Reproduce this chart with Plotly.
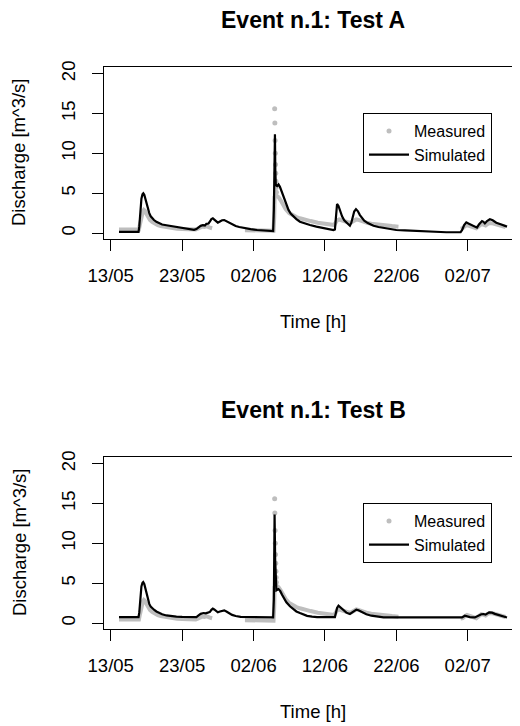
import pandas as pd
import plotly.graph_objects as go

# ---------------- data (days after 13/05) ----------------
BASE = pd.Timestamp("2013-05-13")

tick_days = [0, 10, 20, 30, 40, 50]
y_ticks = [0, 5, 10, 15, 20]

# Measured discharge (grey band), three recorded stretches
meas_day_1 = [1.16, 3.95, 4.05, 4.2, 4.35, 4.5, 4.65, 4.8, 5.0, 5.25, 5.5, 5.8, 6.2, 6.6, 7.0, 7.8,
              8.5, 9.3, 10.0, 10.8, 11.6, 11.9, 12.2, 12.5, 12.8, 13.1, 13.4, 13.8, 14.2]
meas_val_1 = [0.45, 0.45, 0.9, 1.6, 2.3, 2.7, 2.9, 2.8, 2.4, 1.95, 1.65, 1.4, 1.15, 1.0, 0.88, 0.72,
              0.62, 0.55, 0.5, 0.45, 0.4, 0.45, 0.55, 0.7, 0.8, 0.75, 0.85, 0.7, 0.6]
meas_day_2 = [18.8, 20.0, 21.5, 22.8, 22.9, 22.95, 23.2, 23.5, 23.8, 24.1, 24.5, 25.0, 25.5, 26.0,
              26.5, 27.2, 28.0, 29.0, 30.0, 30.7, 31.3, 31.5, 31.7, 32.0, 32.3, 32.6, 33.0, 33.4,
              33.7, 34.0, 34.4, 34.7, 35.1, 35.5, 36.0, 36.5, 37.0, 37.8, 38.5, 39.4, 40.3]
meas_val_2 = [0.35, 0.32, 0.3, 0.3, 2.0, 4.5, 4.7, 4.5, 4.1, 3.6, 3.0, 2.5, 2.2, 2.0,
              1.85, 1.65, 1.5, 1.3, 1.15, 1.07, 1.0, 1.3, 1.6, 1.7, 1.6, 1.5, 1.4, 1.3,
              1.35, 1.5, 1.7, 1.65, 1.5, 1.38, 1.25, 1.17, 1.1, 1.02, 0.95, 0.87, 0.8]
meas_day_3 = [49.0, 49.3, 49.6, 49.9, 50.4, 50.8, 51.2, 51.6, 51.9, 52.2, 52.5, 52.8, 53.1, 53.6,
              54.0, 54.5, 55.0, 55.3]
meas_val_3 = [0.55, 0.6, 0.85, 1.0, 0.85, 0.7, 0.6, 0.9, 1.1, 1.05, 0.95, 1.15, 1.25, 1.2,
              1.1, 1.0, 0.85, 0.75]
# Measured peak readings (isolated dots on the flood spike)
peak_day = [22.96, 22.99, 23.02, 23.05, 23.08, 23.11, 23.14, 23.17, 23.2]
peak_val = [15.6, 13.8, 11.6, 10.0, 8.6, 7.5, 6.5, 5.7, 5.1]

# Simulated discharge, Test A
sim_a_day = [1.16, 3.9, 4.0, 4.1, 4.2, 4.3, 4.45, 4.57, 4.7, 4.85, 5.0, 5.2, 5.4, 5.6, 5.8, 6.06,
             6.4, 6.8, 7.2, 7.8, 8.4, 9.2, 10.0, 10.8, 11.67, 12.0, 12.3, 12.6, 12.9, 13.2, 13.4,
             13.7, 13.9, 14.1, 14.3, 14.5, 14.8, 15.0, 15.3, 15.6, 15.9, 16.2, 16.6, 17.0, 17.5,
             18.0, 18.8, 19.6, 20.5, 21.5, 22.75, 22.85, 22.95, 23.0, 23.05, 23.12, 23.3, 23.5,
             23.7, 23.95, 24.2, 24.5, 24.9, 25.2, 25.6, 26.0, 26.5, 27.2, 27.9, 28.8, 29.8, 30.5,
             31.2, 31.4, 31.55, 31.7, 31.9, 32.1, 32.4, 32.7, 33.0, 33.3, 33.5, 33.7, 33.9, 34.1,
             34.35, 34.6, 34.9, 35.2, 35.5, 36.0, 36.8, 37.5, 38.2, 39.0, 40.0, 41.2, 42.4, 43.5,
             45.0, 47.0, 49.0, 49.2, 49.5, 49.8, 50.1, 50.5, 50.9, 51.3, 51.6, 52.0, 52.2, 52.4,
             52.7, 53.1, 53.5, 54.0, 54.6, 55.0, 55.5]
sim_a_val = [0.15, 0.15, 0.8, 2.2, 3.4, 4.3, 4.85, 4.98, 4.8, 4.3, 3.7, 3.0, 2.5, 2.1, 1.85, 1.63,
             1.4, 1.2, 1.07, 0.97, 0.88, 0.76, 0.63, 0.52, 0.4, 0.5, 0.75, 0.9, 1.0, 0.95, 1.15,
             1.2, 1.45, 1.75, 1.84, 1.7, 1.4, 1.3, 1.45, 1.6, 1.63, 1.5, 1.25, 1.05, 0.88,
             0.75, 0.6, 0.48, 0.38, 0.3, 0.25, 3.0, 10.5, 12.4, 8.0, 6.0, 5.9, 6.1,
             5.8, 5.2, 4.56, 3.7, 2.9, 2.45, 2.05, 1.75, 1.42, 1.2, 1.0, 0.8, 0.6, 0.48,
             0.38, 0.45, 2.5, 3.64, 3.4, 2.8, 2.1, 1.6, 1.3, 1.05, 0.92, 1.3, 2.0, 2.7,
             3.0, 2.75, 2.25, 1.85, 1.55, 1.25, 0.92, 0.75, 0.63, 0.5, 0.38, 0.32, 0.27, 0.2,
             0.13, 0.1, 0.1, 0.35, 1.0, 1.34, 1.2, 1.0, 0.8, 0.67, 1.1, 1.5, 1.4, 1.2,
             1.5, 1.72, 1.6, 1.3, 1.1, 0.95, 0.8]

# Simulated discharge, Test B
sim_b_day = [1.16, 3.9, 4.0, 4.1, 4.2, 4.3, 4.45, 4.55, 4.7, 4.85, 5.0, 5.2, 5.4, 5.6, 5.8, 6.06,
             6.4, 6.8, 7.2, 7.8, 8.4, 9.2, 10.0, 12.0, 12.3, 12.6, 13.0, 13.3, 13.6, 13.9, 14.1,
             14.3, 14.5, 14.8, 15.0, 15.3, 15.6, 15.9, 16.2, 16.6, 17.0, 17.5, 18.2, 20.0, 22.75,
             22.85, 22.95, 23.03, 23.1, 23.2, 23.5, 23.75, 24.0, 24.2, 24.6, 25.1, 25.6, 26.0,
             26.5, 27.0, 27.5, 28.2, 28.9, 31.4, 31.55, 31.7, 31.9, 32.1, 32.5, 33.0, 33.5, 33.8,
             34.1, 34.4, 34.7, 35.2, 35.8, 36.5, 37.3, 38.2, 45.0, 49.2, 49.6, 49.9, 50.3, 51.0,
             51.5, 51.9, 52.2, 52.5, 53.0, 53.4, 53.8, 54.5, 55.0, 55.5]
sim_b_val = [0.75, 0.75, 1.3, 2.6, 3.8, 4.6, 5.05, 5.14, 4.9, 4.3, 3.6, 2.9, 2.4, 2.05, 1.85, 1.67,
             1.45, 1.25, 1.1, 0.95, 0.85, 0.8, 0.77, 0.75, 0.95, 1.15, 1.25, 1.22, 1.3, 1.4, 1.65,
             1.8, 1.7, 1.45, 1.34, 1.45, 1.57, 1.59, 1.45, 1.22, 1.02, 0.88, 0.78, 0.74, 0.72,
             3.0, 13.6, 8.0, 5.0, 4.1, 4.26, 4.0, 3.55, 3.2, 2.6, 2.1, 1.7, 1.45,
             1.25, 1.05, 0.9, 0.8, 0.75, 0.75, 1.4, 1.9, 2.17, 2.0, 1.6, 1.3, 1.13, 1.3,
             1.55, 1.67, 1.6, 1.35, 1.1, 0.92, 0.8, 0.72, 0.7, 0.7, 0.92, 0.85, 0.75, 0.7,
             0.95, 1.1, 1.13, 1.05, 1.34, 1.3, 1.15, 0.95, 0.82, 0.7]

titles = ["Event n.1: Test A", "Event n.1: Test B"]
x_title = "Time [h]"
y_title = "Discharge [m^3/s]"
legend_names = ["Measured", "Simulated"]

# ---------------- helpers ----------------
def to_dt(days):
    return [None if d is None else BASE + pd.Timedelta(days=d) for d in days]

meas_days = meas_day_1 + [None] + meas_day_2 + [None] + meas_day_3
meas_vals = meas_val_1 + [None] + meas_val_2 + [None] + meas_val_3

FONT = "Liberation Sans, Arial, Helvetica, sans-serif"
GREY = "#BEBEBE"
OFF = 8                      # the page body has an 8 px margin around the figure
W, H = 520 - OFF, 726 - OFF  # figure size so that it ends exactly at the window edge

def px_x(px):  # page pixel (from left) -> paper fraction
    return (px - OFF) / W

def px_y(px):  # page pixel (from top) -> paper fraction
    return (H - (px - OFF)) / H

panels = [
    dict(sim_d=sim_a_day, sim_v=sim_a_val, top=67, bottom=239, title_y=20, xt_y=321, leg_top=113),
    dict(sim_d=sim_b_day, sim_v=sim_b_val, top=457, bottom=629, title_y=410, xt_y=711, leg_top=503),
]

fig = go.Figure()
annotations = []
layout = {}
for i, p in enumerate(panels):
    sfx = "" if i == 0 else str(i + 1)
    xa, ya, lg = "x" + sfx, "y" + sfx, "legend" + sfx
    fig.add_trace(go.Scatter(x=to_dt(meas_days), y=meas_vals, mode="lines",
                             line=dict(color=GREY, width=4), connectgaps=False,
                             showlegend=False, xaxis=xa, yaxis=ya, hoverinfo="skip"))
    fig.add_trace(go.Scatter(x=to_dt(peak_day), y=peak_val, mode="markers", name=legend_names[0],
                             marker=dict(color=GREY, size=5), xaxis=xa, yaxis=ya, legend=lg))
    fig.add_trace(go.Scatter(x=to_dt(p["sim_d"]), y=p["sim_v"], mode="lines", name=legend_names[1],
                             line=dict(color="black", width=2.2), xaxis=xa, yaxis=ya, legend=lg))

    layout["xaxis" + sfx] = dict(
        domain=[px_x(104), 1.0], anchor=ya, type="date", automargin=False,
        range=to_dt([-0.94, 57.32]),
        tickvals=to_dt(tick_days), tickformat="%d/%m",
        ticks="outside", ticklen=11, tickwidth=1, tickcolor="black",
        showline=True, mirror=True, linecolor="black", linewidth=1,
        showgrid=False, zeroline=False, ticklabelstandoff=9,
        tickfont=dict(family=FONT, size=18.5, color="black"),
    )
    layout["yaxis" + sfx] = dict(
        domain=[px_y(p["bottom"]), px_y(p["top"])], anchor=xa, automargin=False,
        range=[-0.75, 20.83], tickvals=y_ticks, tickangle=-90,
        ticks="outside", ticklen=11, tickwidth=1, tickcolor="black",
        showline=True, mirror=True, linecolor="black", linewidth=1,
        showgrid=False, zeroline=False, ticklabelstandoff=10,
        tickfont=dict(family=FONT, size=18.5, color="black"),
    )
    layout[lg] = dict(
        x=px_x(363), y=px_y(p["leg_top"]), xanchor="left", yanchor="top",
        bgcolor="white", bordercolor="black", borderwidth=1, itemwidth=40,
        font=dict(family=FONT, size=16, color="black"), tracegroupgap=0,
    )
    annotations.append(dict(text="<b>" + titles[i] + "</b>", x=px_x(313), y=px_y(p["title_y"]),
                            xref="paper", yref="paper", xanchor="center", yanchor="middle",
                            showarrow=False, font=dict(family=FONT, size=23, color="black")))
    annotations.append(dict(text=x_title, x=px_x(313), y=px_y(p["xt_y"]),
                            xref="paper", yref="paper", xanchor="center", yanchor="middle",
                            showarrow=False, font=dict(family=FONT, size=18.5, color="black")))
    annotations.append(dict(text=y_title, x=px_x(19), y=px_y((p["top"] + p["bottom"]) / 2),
                            xref="paper", yref="paper", xanchor="center", yanchor="middle",
                            textangle=-90, showarrow=False,
                            font=dict(family=FONT, size=18.5, color="black")))

fig.update_layout(
    width=W, height=H, autosize=False,
    margin=dict(l=0, r=0, t=0, b=0, pad=0),
    paper_bgcolor="white", plot_bgcolor="white",
    font=dict(family=FONT, color="black"),
    annotations=annotations,
    **layout,
)

fig.write_html("out.html")
